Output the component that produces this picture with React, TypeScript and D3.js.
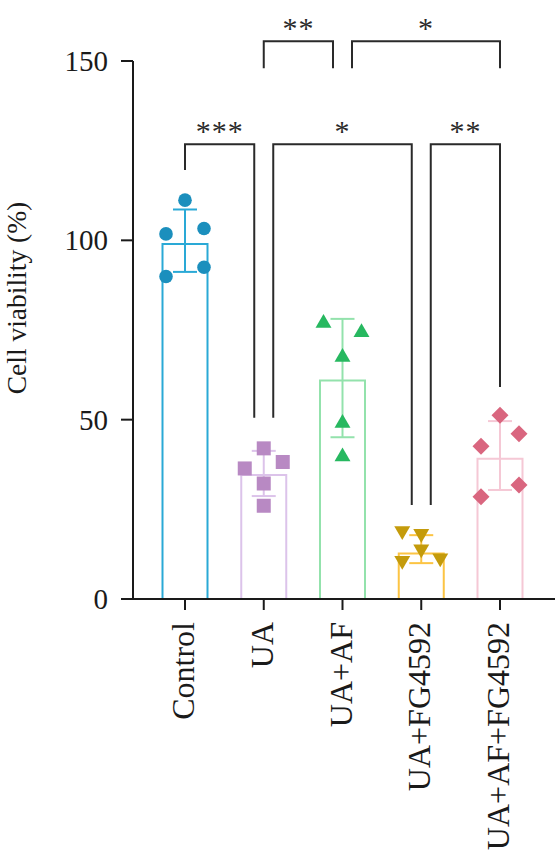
import React from 'react';
import * as d3 from 'd3';

const categories = ['Control', 'UA', 'UA+AF', 'UA+FG4592', 'UA+AF+FG4592'];
const means = [99, 34.6, 60.9, 12.7, 39.1];
const errTop = [108.6, 41.3, 78.1, 17.8, 49.6];
const errBottom = [91.2, 28.7, 45.1, 10.0, 30.4];

// individual replicates, slot = -1 left, 0 centre, 1 right
const pointValues = [
  [111.2, 103.3, 101.8, 92.5, 89.9],
  [42.0, 38.2, 36.4, 32.2, 26.0],
  [76.9, 74.3, 67.4, 49.0, 39.7],
  [19.0, 18.2, 13.9, 10.7, 11.4],
  [51.2, 46.1, 42.6, 31.8, 28.5],
];
const pointSlots = [
  [0, 1, -1, 1, -1],
  [0, 1, -1, 0, 0],
  [-1, 1, 0, 0, 0],
  [-1, 0, 0, -1, 1],
  [0, 1, -1, 1, -1],
];

const yTicks = [0, 50, 100, 150];

// significance brackets
const brackets = [
  { from: 0, to: 1, fromSide: 0, toSide: -1, y: 126.8, legFrom: 119.6, legTo: 50.5, label: '***' },
  { from: 1, to: 3, fromSide: 1, toSide: -1, y: 126.8, legFrom: 50.5, legTo: 26.2, label: '*' },
  { from: 3, to: 4, fromSide: 1, toSide: 0, y: 126.8, legFrom: 26.2, legTo: 59.1, label: '**' },
  { from: 1, to: 2, fromSide: 0, toSide: -1, y: 155.5, legFrom: 148, legTo: 148, label: '**' },
  { from: 2, to: 4, fromSide: 1, toSide: 0, y: 155.5, legFrom: 148, legTo: 148, label: '*' },
];

const barColors = ['#2aa9d6', '#dcc3ea', '#93e2ac', '#fcc443', '#f5c8d5'];
const dotColors = ['#1b8fbd', '#b889c3', '#27b860', '#c49b0b', '#d9667f'];
const shapes = ['circle', 'square', 'triangle', 'triangleDown', 'diamond'];

const W = 555;
const H = 857;
const FONT = '"Liberation Serif", "Times New Roman", serif';

function Marker({ shape, x, y, color }: { shape: string; x: number; y: number; color: string }) {
  if (shape === 'circle') return <circle cx={x} cy={y} r={6.8} fill={color} />;
  if (shape === 'square') return <rect x={x - 7} y={y - 7} width={14} height={14} fill={color} />;
  if (shape === 'diamond') {
    const s = 8.5;
    return <path d={`M${x},${y - s}L${x + s},${y}L${x},${y + s}L${x - s},${y}Z`} fill={color} />;
  }
  const sym = d3.symbol().type(d3.symbolTriangle).size(110)();
  const rot = shape === 'triangleDown' ? 180 : 0;
  return <path d={sym || ''} transform={`translate(${x},${y}) rotate(${rot})`} fill={color} />;
}

export default function App() {
  const y = d3.scaleLinear().domain([0, 150]).range([599, 61]);
  const x = d3.scalePoint<string>().domain(categories).range([185, 500]);
  const barW = 45;
  const slotW = 19;
  const gap = 9.5;
  const axisX = 133;
  const axisY = y(0);

  return (
    <svg width={W} height={H} style={{ position: 'absolute', left: 0, top: 0, background: '#fff' }}>
      {/* bars */}
      {categories.map((c, i) => {
        const cx = x(c)!;
        return (
          <g key={c} stroke={barColors[i]} strokeWidth={2} fill="none">
            <path d={`M${cx - barW / 2},${axisY}V${y(means[i])}H${cx + barW / 2}V${axisY}`} />
            <line x1={cx} x2={cx} y1={y(errTop[i])} y2={y(errBottom[i])} />
            <line x1={cx - 12} x2={cx + 12} y1={y(errTop[i])} y2={y(errTop[i])} />
            <line x1={cx - 12} x2={cx + 12} y1={y(errBottom[i])} y2={y(errBottom[i])} />
          </g>
        );
      })}
      {/* points */}
      {categories.map((c, i) =>
        pointValues[i].map((v, j) => (
          <Marker key={`${c}-${j}`} shape={shapes[i]} x={x(c)! + pointSlots[i][j] * slotW} y={y(v)} color={dotColors[i]} />
        ))
      )}
      {/* axes */}
      <g stroke="#1a1a1a" strokeWidth={2}>
        <line x1={axisX} x2={axisX} y1={y(150)} y2={axisY + 1} />
        <line x1={axisX} x2={W} y1={axisY} y2={axisY} />
        {yTicks.map(t => (
          <line key={t} x1={axisX - 12} x2={axisX} y1={y(t)} y2={y(t)} />
        ))}
        {categories.map(c => (
          <line key={c} x1={x(c)!} x2={x(c)!} y1={axisY} y2={axisY + 11} />
        ))}
      </g>
      <g fontFamily={FONT} fill="#1a1a1a">
        {yTicks.map(t => (
          <text key={t} x={108} y={y(t)} fontSize={29} textAnchor="end" dominantBaseline="central">
            {t}
          </text>
        ))}
        <text transform={`translate(26, 298) rotate(-90)`} fontSize={27.5} textAnchor="middle">
          Cell viability (%)
        </text>
        {categories.map(c => (
          <text key={c} transform={`translate(${x(c)! + 9}, 622) rotate(-90)`} fontSize={32} textAnchor="end">
            {c}
          </text>
        ))}
      </g>
      {/* significance */}
      <g stroke="#2a2a2a" strokeWidth={2} fill="none">
        {brackets.map((b, i) => {
          const x1 = x(categories[b.from])! + b.fromSide * gap;
          const x2 = x(categories[b.to])! + b.toSide * gap;
          return (
            <path key={i} d={`M${x1},${y(b.legFrom)}V${y(b.y)}H${x2}V${y(b.legTo)}`} />
          );
        })}
      </g>
      <g fontFamily={FONT} fill="#2a2a2a">
        {brackets.map((b, i) => {
          const x1 = x(categories[b.from])! + b.fromSide * gap;
          const x2 = x(categories[b.to])! + b.toSide * gap;
          return (
            <text key={i} x={(x1 + x2) / 2} y={y(b.y) - 3} fontSize={30} textAnchor="middle" letterSpacing={1}>
              {b.label}
            </text>
          );
        })}
      </g>
    </svg>
  );
}
